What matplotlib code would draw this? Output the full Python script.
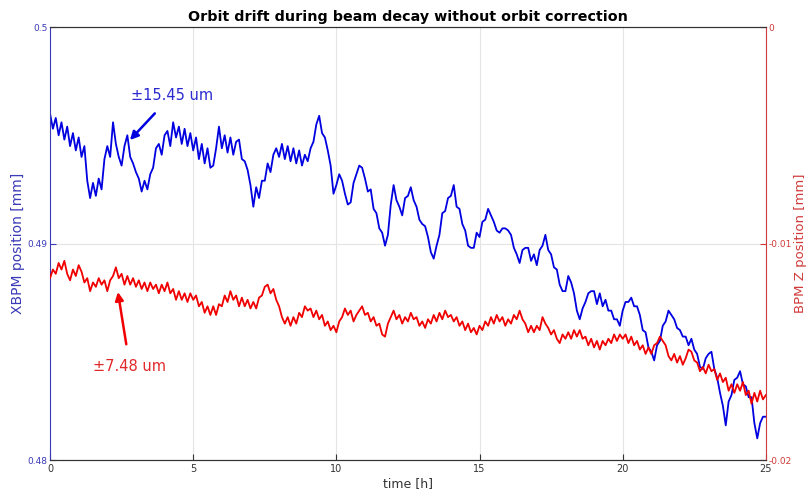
import numpy as np
import matplotlib
matplotlib.use('Agg')
import matplotlib.pyplot as plt
from matplotlib.ticker import FuncFormatter

plt.rcParams['font.family'] = 'DejaVu Sans'
plt.rcParams['axes.unicode_minus'] = False

# sample times, one reading every 0.1 h
time_h = np.round(np.arange(0, 25.05, 0.1), 1)

# XBPM horizontal position [mm]
xbpm_mm = [
    0.4960, 0.4953, 0.4958, 0.4950, 0.4956, 0.4948, 0.4954, 0.4945, 0.4951, 0.4943,
    0.4949, 0.4940, 0.4945, 0.4929, 0.4921, 0.4928, 0.4922, 0.4930, 0.4925, 0.4939,
    0.4945, 0.4940, 0.4956, 0.4946, 0.4940, 0.4936, 0.4945, 0.4950, 0.4940, 0.4937,
    0.4933, 0.4930, 0.4924, 0.4929, 0.4925, 0.4932, 0.4935, 0.4944, 0.4946, 0.4941,
    0.4950, 0.4952, 0.4945, 0.4956, 0.4949, 0.4954, 0.4946, 0.4953, 0.4945, 0.4951,
    0.4943, 0.4949, 0.4939, 0.4946, 0.4937, 0.4944, 0.4935, 0.4936, 0.4944, 0.4954,
    0.4944, 0.4950, 0.4942, 0.4949, 0.4941, 0.4947, 0.4948, 0.4939, 0.4938, 0.4934,
    0.4927, 0.4917, 0.4926, 0.4921, 0.4929, 0.4929, 0.4937, 0.4933, 0.4941, 0.4944,
    0.4940, 0.4946, 0.4939, 0.4945, 0.4938, 0.4944, 0.4937, 0.4943, 0.4936, 0.4941,
    0.4938, 0.4944, 0.4947, 0.4955, 0.4959, 0.4951, 0.4949, 0.4943, 0.4936, 0.4923,
    0.4927, 0.4932, 0.4929, 0.4923, 0.4918, 0.4919, 0.4928, 0.4932, 0.4936, 0.4935,
    0.4930, 0.4924, 0.4925, 0.4916, 0.4914, 0.4907, 0.4905, 0.4899, 0.4904, 0.4918,
    0.4927, 0.4920, 0.4917, 0.4913, 0.4921, 0.4922, 0.4926, 0.4920, 0.4917, 0.4911,
    0.4909, 0.4908, 0.4903, 0.4896, 0.4893, 0.4899, 0.4904, 0.4914, 0.4915, 0.4921,
    0.4922, 0.4927, 0.4917, 0.4916, 0.4909, 0.4906, 0.4899, 0.4898, 0.4898, 0.4905,
    0.4903, 0.4910, 0.4911, 0.4916, 0.4913, 0.4910, 0.4906, 0.4905, 0.4907, 0.4907,
    0.4906, 0.4904, 0.4898, 0.4895, 0.4891, 0.4897, 0.4898, 0.4898, 0.4892, 0.4895,
    0.4890, 0.4897, 0.4899, 0.4904, 0.4897, 0.4895, 0.4889, 0.4888, 0.4881, 0.4878,
    0.4878, 0.4885, 0.4882, 0.4877, 0.4869, 0.4865, 0.4870, 0.4873, 0.4877, 0.4878,
    0.4878, 0.4872, 0.4877, 0.4871, 0.4874, 0.4869, 0.4869, 0.4865, 0.4865, 0.4862,
    0.4869, 0.4873, 0.4873, 0.4875, 0.4871, 0.4871, 0.4867, 0.4860, 0.4859, 0.4852,
    0.4850, 0.4846, 0.4853, 0.4855, 0.4862, 0.4864, 0.4869, 0.4867, 0.4865, 0.4861,
    0.4860, 0.4857, 0.4857, 0.4853, 0.4856, 0.4851, 0.4849, 0.4843, 0.4842, 0.4847,
    0.4849, 0.4850, 0.4842, 0.4838, 0.4831, 0.4825, 0.4816, 0.4827, 0.4830, 0.4837,
    0.4838, 0.4841, 0.4835, 0.4834, 0.4829, 0.4829, 0.4817, 0.4810, 0.4817, 0.4820,
    0.4820,
]

# BPM vertical position [mm]
bpm_z_mm = [
    -0.0116, -0.0112, -0.0114, -0.0109, -0.0112, -0.0108, -0.0114, -0.0117, -0.0112, -0.0115,
    -0.0110, -0.0113, -0.0118, -0.0116, -0.0122, -0.0118, -0.0120, -0.0116, -0.0119, -0.0117,
    -0.0122, -0.0117, -0.0115, -0.0111, -0.0116, -0.0114, -0.0119, -0.0115, -0.0119, -0.0116,
    -0.0120, -0.0117, -0.0121, -0.0118, -0.0122, -0.0118, -0.0121, -0.0119, -0.0123, -0.0119,
    -0.0122, -0.0118, -0.0123, -0.0121, -0.0126, -0.0122, -0.0126, -0.0123, -0.0127, -0.0123,
    -0.0126, -0.0124, -0.0129, -0.0127, -0.0132, -0.0129, -0.0133, -0.0129, -0.0133, -0.0128,
    -0.0129, -0.0124, -0.0127, -0.0122, -0.0126, -0.0124, -0.0129, -0.0125, -0.0129, -0.0126,
    -0.0130, -0.0127, -0.0130, -0.0125, -0.0124, -0.0120, -0.0119, -0.0123, -0.0121, -0.0126,
    -0.0129, -0.0134, -0.0137, -0.0134, -0.0138, -0.0134, -0.0137, -0.0132, -0.0134, -0.0129,
    -0.0131, -0.0130, -0.0134, -0.0131, -0.0135, -0.0133, -0.0138, -0.0136, -0.0140, -0.0138,
    -0.0141, -0.0136, -0.0134, -0.0130, -0.0133, -0.0131, -0.0136, -0.0133, -0.0131, -0.0129,
    -0.0133, -0.0132, -0.0136, -0.0134, -0.0138, -0.0137, -0.0142, -0.0143, -0.0137, -0.0134,
    -0.0131, -0.0135, -0.0133, -0.0137, -0.0134, -0.0136, -0.0132, -0.0135, -0.0134, -0.0138,
    -0.0136, -0.0139, -0.0135, -0.0137, -0.0133, -0.0136, -0.0132, -0.0135, -0.0131, -0.0134,
    -0.0133, -0.0136, -0.0134, -0.0138, -0.0136, -0.0140, -0.0137, -0.0141, -0.0139, -0.0142,
    -0.0138, -0.0140, -0.0136, -0.0138, -0.0134, -0.0137, -0.0133, -0.0136, -0.0134, -0.0138,
    -0.0135, -0.0137, -0.0133, -0.0135, -0.0131, -0.0135, -0.0137, -0.0141, -0.0138, -0.0141,
    -0.0138, -0.0140, -0.0134, -0.0137, -0.0139, -0.0142, -0.0140, -0.0144, -0.0146, -0.0142,
    -0.0144, -0.0141, -0.0144, -0.0140, -0.0143, -0.0140, -0.0144, -0.0143, -0.0147, -0.0144,
    -0.0148, -0.0145, -0.0149, -0.0145, -0.0147, -0.0144, -0.0146, -0.0142, -0.0145, -0.0142,
    -0.0144, -0.0142, -0.0146, -0.0143, -0.0147, -0.0145, -0.0149, -0.0147, -0.0151, -0.0148,
    -0.0151, -0.0147, -0.0146, -0.0143, -0.0145, -0.0147, -0.0152, -0.0154, -0.0151, -0.0155,
    -0.0152, -0.0156, -0.0153, -0.0149, -0.0150, -0.0154, -0.0155, -0.0159, -0.0157, -0.0160,
    -0.0156, -0.0159, -0.0158, -0.0163, -0.0160, -0.0164, -0.0162, -0.0168, -0.0165, -0.0169,
    -0.0165, -0.0168, -0.0164, -0.0170, -0.0168, -0.0174, -0.0169, -0.0173, -0.0168, -0.0172,
    -0.0170,
]

x_ticks = [0, 5, 10, 15, 20, 25]
xbpm_ticks = [0.48, 0.49, 0.50]
bpm_z_ticks = [-0.02, -0.01, 0.0]

BLUE = '#0000e0'
RED = '#f00000'
BLUE_AX = '#3a3ab8'
RED_AX = '#d03a3a'

fig = plt.figure(figsize=(8.07, 4.95), dpi=100)
ax = fig.add_axes([0.062, 0.0707, 0.887, 0.8747])
ax2 = ax.twinx()

ax.plot(time_h, xbpm_mm, color=BLUE, lw=1.3)
ax2.plot(time_h, bpm_z_mm, color=RED, lw=1.3)

ax.set_xlim(0, 25)
ax.set_ylim(0.48, 0.50)
ax2.set_ylim(-0.02, 0.0)
ax.set_xticks(x_ticks)
ax.set_yticks(xbpm_ticks)
ax2.set_yticks(bpm_z_ticks)
fmt = FuncFormatter(lambda v, p: f'{v:g}')
ax.yaxis.set_major_formatter(fmt)
ax2.yaxis.set_major_formatter(fmt)

ax.grid(True, color='#e4e4e4', lw=0.8)
ax.set_axisbelow(True)

ax.tick_params(axis='x', direction='in', length=4, labelsize=7, colors='#333333', pad=3)
ax.tick_params(axis='y', direction='in', length=4, labelsize=6.5, colors=BLUE_AX, pad=2)
ax2.tick_params(axis='y', direction='in', length=4, labelsize=6.5, colors=RED_AX, pad=2)

for a in (ax, ax2):
    a.spines['top'].set_color('#333333')
    a.spines['bottom'].set_color('#333333')
ax.spines['left'].set_color(BLUE_AX)
ax.spines['right'].set_visible(False)
ax2.spines['left'].set_visible(False)
ax2.spines['right'].set_color(RED_AX)

ax.set_title('Orbit drift during beam decay without orbit correction',
             fontsize=10.3, fontweight='bold', pad=4)
ax.set_xlabel('time [h]', fontsize=9, color='#333333', labelpad=2)
fig.text(0.022, 0.508, 'XBPM position [mm]', rotation=90, ha='center', va='center',
         fontsize=10, color=BLUE_AX)
fig.text(0.9915, 0.508, 'BPM Z position [mm]', rotation=90, ha='center', va='center',
         fontsize=9.5, color=RED_AX)

ax.annotate('±15.45 um', xy=(2.79, 0.49478), xytext=(4.26, 0.49686),
            color='#2a2ad0', fontsize=10.5, ha='center', va='center',
            arrowprops=dict(arrowstyle='-|>', color=BLUE, lw=1.8, mutation_scale=12,
                            shrinkA=8, shrinkB=0))
ax2.annotate('±7.48 um', xy=(2.37, -0.01224), xytext=(2.79, -0.01570),
             color='#e02a2a', fontsize=10.5, ha='center', va='center',
             arrowprops=dict(arrowstyle='-|>', color=RED, lw=1.8, mutation_scale=12,
                             shrinkA=9, shrinkB=0))

fig.savefig('out.png', dpi=100)
